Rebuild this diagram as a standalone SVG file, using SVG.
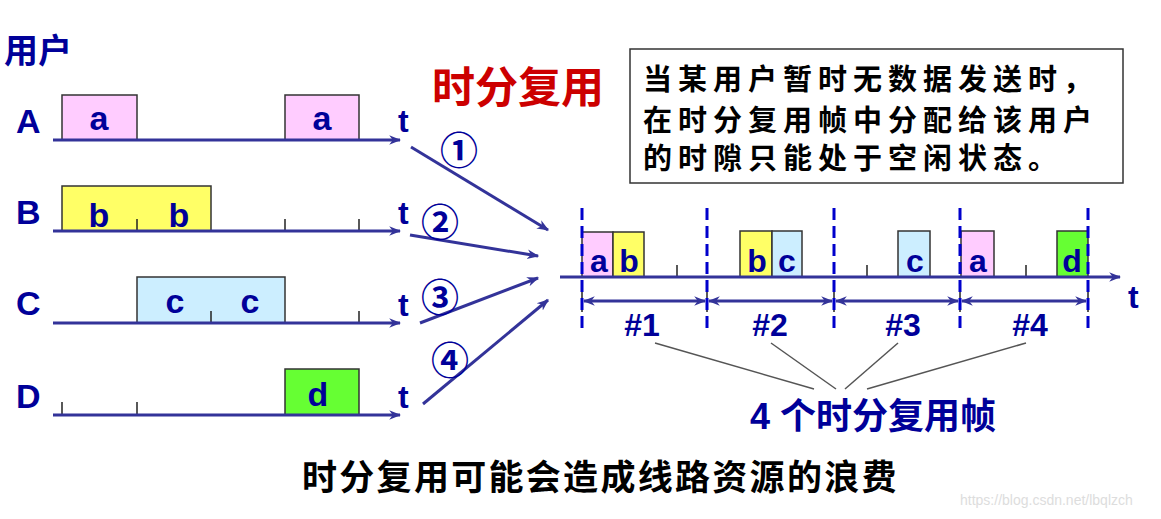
<svg xmlns="http://www.w3.org/2000/svg" width="1161" height="519" viewBox="0 0 1161 519">
<defs>
<marker id="ah" viewBox="0 0 10 10" refX="9" refY="5" markerWidth="4" markerHeight="4" orient="auto-start-reverse" markerUnits="strokeWidth">
<path d="M0,1 L10,5 L0,9 L3,5 Z" fill="#333399"/>
</marker>
<style>
.lat{font-family:"Liberation Sans",Arial,sans-serif;font-weight:bold;fill:#000099}
.cjk{font-family:"Noto Sans CJK SC","Liberation Sans",sans-serif;font-weight:bold;fill:#000099}
.axis{stroke:#333399;stroke-width:3;fill:none}
.conn{stroke:#333399;stroke-width:3;fill:none}
.tick{stroke:#222;stroke-width:1.5}
.box{stroke:#333;stroke-width:1.5}
.pa{fill:#ffccff}.yb{fill:#ffff66}.bc{fill:#cceeff}.gd{fill:#66ff33}
.dash{stroke:#0000cc;stroke-width:3;stroke-dasharray:12 6;fill:none}
.lead{stroke:#555;stroke-width:1.5;fill:none}
.mid{text-anchor:middle}
.note{font-family:"Noto Sans CJK SC",sans-serif;font-weight:bold;font-size:29px;letter-spacing:6px;fill:#000}
</style>
</defs>
<rect width="1161" height="519" fill="#ffffff"/>
<text class="cjk" x="4" y="63" font-size="34">用户</text>

<g id="userA">
<text class="lat" x="16" y="133" font-size="34">A</text>
<rect class="box pa" x="62" y="95" width="75" height="45"/>
<rect class="box pa" x="285" y="95" width="74" height="45"/>
<text class="lat mid" x="99" y="130" font-size="34">a</text>
<text class="lat mid" x="322" y="130" font-size="34">a</text>
<line class="axis" x1="53" y1="140" x2="400" y2="140" marker-end="url(#ah)"/>
<text class="lat" x="398" y="132" font-size="32">t</text>
</g>

<g id="userB">
<text class="lat" x="16" y="224" font-size="34">B</text>
<rect class="box yb" x="62" y="186" width="149" height="45"/>
<line class="tick" x1="137" y1="219" x2="137" y2="231"/>
<line class="tick" x1="285" y1="219" x2="285" y2="231"/>
<line class="tick" x1="359" y1="219" x2="359" y2="231"/>
<text class="lat mid" x="99" y="227" font-size="34">b</text>
<text class="lat mid" x="179" y="227" font-size="34">b</text>
<line class="axis" x1="53" y1="231" x2="400" y2="231" marker-end="url(#ah)"/>
<text class="lat" x="398" y="224" font-size="32">t</text>
</g>

<g id="userC">
<text class="lat" x="16" y="315" font-size="34">C</text>
<rect class="box bc" x="137" y="277" width="148" height="46"/>
<line class="tick" x1="211" y1="311" x2="211" y2="323"/>
<line class="tick" x1="359" y1="311" x2="359" y2="323"/>
<text class="lat mid" x="175" y="313" font-size="34">c</text>
<text class="lat mid" x="250" y="313" font-size="34">c</text>
<line class="axis" x1="53" y1="323" x2="400" y2="323" marker-end="url(#ah)"/>
<text class="lat" x="398" y="316" font-size="32">t</text>
</g>

<g id="userD">
<text class="lat" x="16" y="408" font-size="34">D</text>
<rect class="box gd" x="285" y="369" width="74" height="46"/>
<line class="tick" x1="62" y1="402" x2="62" y2="415"/>
<line class="tick" x1="137" y1="402" x2="137" y2="415"/>
<text class="lat mid" x="318" y="406" font-size="34">d</text>
<line class="axis" x1="53" y1="415" x2="400" y2="415" marker-end="url(#ah)"/>
<text class="lat" x="398" y="408" font-size="32">t</text>
</g>

<g id="connectors">
<line class="conn" x1="411" y1="147" x2="548" y2="230" marker-end="url(#ah)"/>
<line class="conn" x1="410" y1="235" x2="538" y2="256" marker-end="url(#ah)"/>
<line class="conn" x1="420" y1="323" x2="538" y2="278" marker-end="url(#ah)"/>
<line class="conn" x1="423" y1="404" x2="548" y2="300" marker-end="url(#ah)"/>
<line class="lead" x1="655" y1="343" x2="814" y2="389"/>
<line class="lead" x1="771" y1="343" x2="836" y2="389"/>
<line class="lead" x1="898" y1="343" x2="845" y2="389"/>
<line class="lead" x1="1026" y1="343" x2="867" y2="389"/>
</g>

<g id="labels">
<text class="cjk mid" x="459" y="164" font-size="38">①</text>
<text class="cjk mid" x="440" y="236" font-size="38">②</text>
<text class="cjk mid" x="440" y="311" font-size="38">③</text>
<text class="cjk mid" x="450" y="374" font-size="38">④</text>
</g>

<g id="title">
<text x="432" y="103" font-size="43" font-weight="bold" fill="#cc0000" font-family="'Noto Sans CJK SC',sans-serif">时分复用</text>
</g>

<g id="note">
<rect x="630" y="49" width="493" height="134" fill="#ffffff" stroke="#333" stroke-width="1.5"/>
<text class="note" x="643" y="90">当某用户暂时无数据发送时，</text>
<text class="note" x="643" y="131">在时分复用帧中分配给该用户</text>
<text class="note" x="643" y="169">的时隙只能处于空闲状态。</text>
</g>

<g id="tdm">
<rect class="box pa" x="582" y="232" width="31" height="45"/>
<rect class="box yb" x="613" y="232" width="31" height="45"/>
<rect class="box yb" x="740" y="231" width="32" height="46"/>
<rect class="box bc" x="772" y="231" width="30" height="46"/>
<rect class="box bc" x="898" y="231" width="32" height="46"/>
<rect class="box pa" x="961" y="231" width="33" height="46"/>
<rect class="box gd" x="1057" y="231" width="31" height="46"/>
<text class="lat mid" x="599" y="272" font-size="32">a</text>
<text class="lat mid" x="629" y="272" font-size="32">b</text>
<text class="lat mid" x="757" y="272" font-size="32">b</text>
<text class="lat mid" x="787" y="272" font-size="32">c</text>
<text class="lat mid" x="915" y="272" font-size="32">c</text>
<text class="lat mid" x="978" y="272" font-size="32">a</text>
<text class="lat mid" x="1072" y="272" font-size="32">d</text>
<line class="tick" x1="677" y1="265" x2="677" y2="277"/>
<line class="tick" x1="867" y1="265" x2="867" y2="277"/>
<line class="tick" x1="1026" y1="265" x2="1026" y2="277"/>
<line class="axis" x1="560" y1="277" x2="1120" y2="277" marker-end="url(#ah)"/>
<text class="lat" x="1128" y="308" font-size="32">t</text>
<line class="tick" x1="582" y1="290" x2="582" y2="312"/>
<line class="tick" x1="707" y1="290" x2="707" y2="312"/>
<line class="tick" x1="834" y1="290" x2="834" y2="312"/>
<line class="tick" x1="960" y1="290" x2="960" y2="312"/>
<line class="tick" x1="1088" y1="290" x2="1088" y2="312"/>
<line class="conn" x1="584" y1="301" x2="705" y2="301" marker-start="url(#ah)" marker-end="url(#ah)"/>
<line class="conn" x1="709" y1="301" x2="832" y2="301" marker-start="url(#ah)" marker-end="url(#ah)"/>
<line class="conn" x1="836" y1="301" x2="958" y2="301" marker-start="url(#ah)" marker-end="url(#ah)"/>
<line class="conn" x1="962" y1="301" x2="1086" y2="301" marker-start="url(#ah)" marker-end="url(#ah)"/>
<line class="dash" x1="582" y1="208" x2="582" y2="330"/>
<line class="dash" x1="707" y1="208" x2="707" y2="330"/>
<line class="dash" x1="834" y1="208" x2="834" y2="330"/>
<line class="dash" x1="960" y1="208" x2="960" y2="330"/>
<line class="dash" x1="1088" y1="208" x2="1088" y2="330"/>
<text class="lat mid" x="642" y="336" font-size="32">#1</text>
<text class="lat mid" x="770" y="336" font-size="32">#2</text>
<text class="lat mid" x="903" y="336" font-size="32">#3</text>
<text class="lat mid" x="1030" y="336" font-size="32">#4</text>
</g>

<g id="frames-label">
<text class="cjk" x="750" y="429" font-size="36"><tspan font-family="'Liberation Sans',sans-serif">4 </tspan>个时分复用帧</text>
</g>

<g id="caption">
<text x="302" y="490" font-size="35" font-weight="bold" letter-spacing="2.3" fill="#000" font-family="'Noto Sans CJK SC',sans-serif">时分复用可能会造成线路资源的浪费</text>
<text x="960" y="505" font-size="14" fill="#dddddd" font-family="'Liberation Sans',sans-serif">https://blog.csdn.net/lbqlzch</text>
</g>
</svg>
